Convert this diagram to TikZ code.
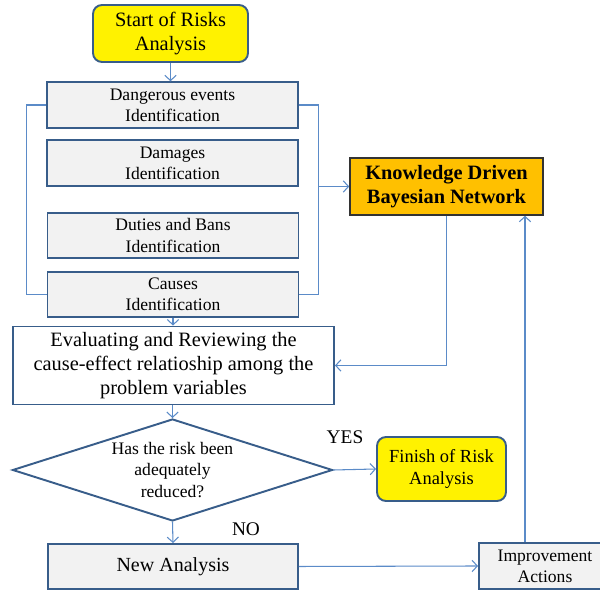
\documentclass[tikz,border=0pt]{standalone}
\usepackage{fontspec}
\setmainfont{Liberation Serif}
\usetikzlibrary{shapes.geometric,arrows.meta}
\definecolor{edgeblue}{HTML}{385D8A}
\definecolor{linkblue}{HTML}{5B8BC8}
\definecolor{boxgray}{HTML}{F2F2F2}
\definecolor{kbnorange}{HTML}{FFC000}
\tikzset{
  stepbox/.style={draw=edgeblue,line width=1.1pt,fill=boxgray,align=center,
    minimum width=5.02cm,minimum height=0.91cm,inner sep=1pt,
    font=\fontsize{10}{12}\selectfont},
  termbox/.style={draw=edgeblue,line width=1.1pt,fill=yellow,
    rounded corners=0.18cm,align=center},
  link/.style={draw=linkblue,line width=0.6pt},
  arr/.style={link,-{Straight Barb[length=3pt,width=6.5pt]}}
}

\begin{document}
\begin{tikzpicture}
\useasboundingbox (0,0) rectangle (12,11.84);
\clip (0,0) rectangle (12,11.84);
% start and the four identification steps
\node[termbox,minimum width=3.1cm,minimum height=1.14cm,font=\fontsize{11.6}{13.6}\selectfont] (start) at (3.41,11.17) {Start of Risks\\Analysis};
\node[stepbox] (dang) at (3.45,9.74) {Dangerous events\\Identification};
\node[stepbox] (dam) at (3.45,8.58) {Damages\\Identification};
\node[stepbox] (duty) at (3.46,7.13) {Duties and Bans\\Identification};
\node[stepbox] (caus) at (3.46,5.95) {Causes\\Identification};
% knowledge driven network
\node[draw=black!80,line width=0.9pt,fill=kbnorange,align=center,minimum width=3.86cm,minimum height=1.14cm,font=\fontsize{11.6}{13.6}\selectfont\bfseries] (kn) at (8.93,8.11) {Knowledge Driven\\Bayesian Network};
% evaluation and decision
\node[draw=edgeblue,line width=1.1pt,fill=white,align=center,minimum width=6.42cm,minimum height=1.5cm,font=\fontsize{11.6}{13.6}\selectfont] (eval) at (3.47,4.53) {Evaluating and Reviewing the\\cause-effect relatioship among the\\problem variables};
\node[diamond,draw=edgeblue,line width=1.1pt,aspect=3.14,minimum width=6.4cm,minimum height=2.04cm,inner sep=0pt,align=center,font=\fontsize{10}{12}\selectfont] (dia) at (3.45,2.44) {Has the risk been\\adequately\\reduced?};
\node[termbox,minimum width=2.58cm,minimum height=1.28cm,font=\fontsize{10.5}{12.5}\selectfont] (fin) at (8.83,2.46) {Finish of Risk\\Analysis};
\node[font=\fontsize{11}{13}\selectfont] (yes) at (6.9,3.1) {YES};
\node[font=\fontsize{11}{13}\selectfont] (no) at (4.92,1.26) {NO};
\node[stepbox,minimum width=5.0cm,minimum height=0.9cm,font=\fontsize{11.4}{13.4}\selectfont] (new) at (3.46,0.51) {New Analysis};
\node[stepbox,minimum width=2.64cm,minimum height=0.92cm] (imp) at (10.9,0.52) {Improvement\\Actions};

% brackets around the steps
\draw[link] (dang.west) -- ++(-0.4,0) |- (caus.west);
\draw[link] (dang.east) -- ++(0.4,0) coordinate (rb) |- (caus.east);
\draw[arr] (kn.west -| rb) -- (kn.west);

% flow
\draw[arr] (start.south) -- (start.south |- dang.north);
\draw[arr] (caus.south) -- (caus.south |- eval.north);
\draw[arr] (kn.south) |- (eval.east);
\draw[arr] (eval.south -| dia.north) -- (dia.north);
\draw[arr] (dia.east) -- (fin.west);
\draw[arr] (dia.south) -- (new.north);
\draw[arr] (new.east) -- (imp.west);
\draw[arr] ([xshift=-0.4cm]imp.north) -- ([xshift=-0.4cm]imp.north |- kn.south);
\end{tikzpicture}
\end{document}
